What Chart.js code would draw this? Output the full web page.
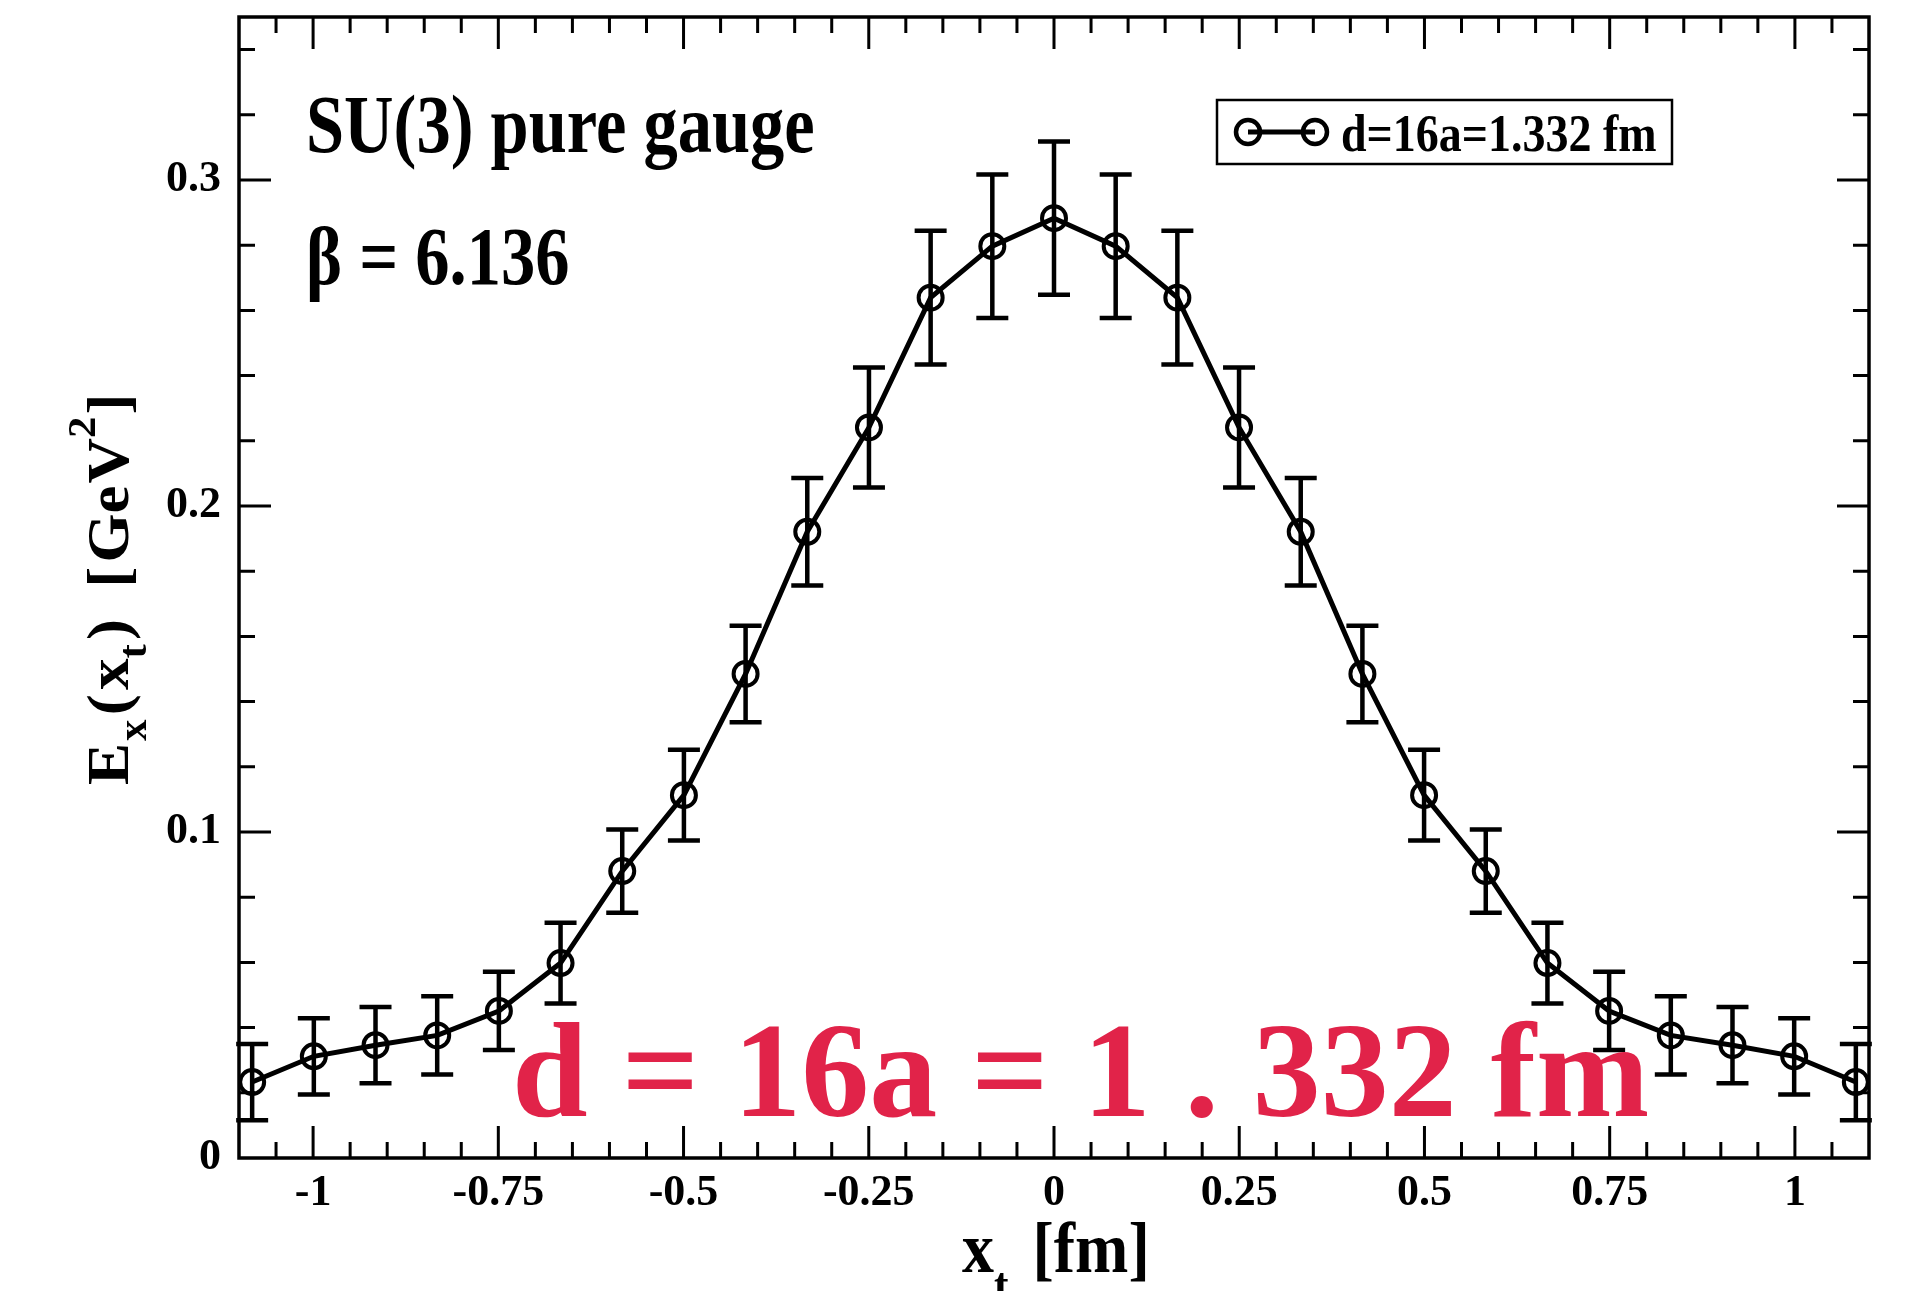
<!DOCTYPE html>
<html>
<head>
<meta charset="utf-8">
<script src="https://cdn.jsdelivr.net/npm/chart.js@4.4.1/dist/chart.umd.min.js"></script>
<style>
  html, body { margin: 0; padding: 0; background: #fff; overflow: hidden; }
  canvas { display: block; }
</style>
</head>
<body>
<canvas id="chart" width="1922" height="1291"></canvas>
<script>
// Transverse position x_t [fm] of each measurement (multiples of a = 0.08325 fm)
const xPositions = [
  -1.08225, -0.999, -0.91575, -0.8325, -0.74925, -0.666, -0.58275,
  -0.4995, -0.41625, -0.333, -0.24975, -0.1665, -0.08325, 0,
  0.08325, 0.1665, 0.24975, 0.333, 0.41625, 0.4995, 0.58275,
  0.666, 0.74925, 0.8325, 0.91575, 0.999, 1.08225
];
// E_x(x_t) [GeV^2]
const fieldValues = [
  0.0233, 0.0312, 0.0346, 0.0376, 0.0451, 0.0598, 0.0880,
  0.1113, 0.1485, 0.1921, 0.2241, 0.2639, 0.2797, 0.2883,
  0.2797, 0.2639, 0.2241, 0.1921, 0.1485, 0.1113, 0.0880,
  0.0598, 0.0451, 0.0376, 0.0346, 0.0312, 0.0233
];
// statistical errors
const fieldErrors = [
  0.0117, 0.0117, 0.0117, 0.0120, 0.0120, 0.0124, 0.0128,
  0.0139, 0.0148, 0.0165, 0.0184, 0.0205, 0.0220, 0.0235,
  0.0220, 0.0205, 0.0184, 0.0165, 0.0148, 0.0139, 0.0128,
  0.0124, 0.0120, 0.0120, 0.0117, 0.0117, 0.0117
];
const seriesLabel = 'd=16a=1.332 fm';

const xTickValues = [-1, -0.75, -0.5, -0.25, 0, 0.25, 0.5, 0.75, 1];
const xTickLabels = ['-1', '-0.75', '-0.5', '-0.25', '0', '0.25', '0.5', '0.75', '1'];
const yTickValues = [0, 0.1, 0.2, 0.3];
const yTickLabels = ['0', '0.1', '0.2', '0.3'];
const xRange = [-1.1, 1.1];
const yRange = [0, 0.35];
const xMinorStep = 0.05;
const yMinorStep = 0.02;

const FONT = '"Liberation Serif", "Times New Roman", serif';
const INK = '#000';

// error bars with caps, drawn under the markers
const errorBarPlugin = {
  id: 'errorBars',
  beforeDatasetsDraw(chart) {
    const { ctx, scales: { x, y } } = chart;
    ctx.save();
    ctx.strokeStyle = INK;
    ctx.lineWidth = 4.5;
    ctx.lineCap = 'butt';
    xPositions.forEach((xv, i) => {
      const px = x.getPixelForValue(xv);
      const top = y.getPixelForValue(fieldValues[i] + fieldErrors[i]);
      const bot = y.getPixelForValue(fieldValues[i] - fieldErrors[i]);
      ctx.beginPath();
      ctx.moveTo(px, top); ctx.lineTo(px, bot);
      ctx.moveTo(px - 16, top); ctx.lineTo(px + 16, top);
      ctx.moveTo(px - 16, bot); ctx.lineTo(px + 16, bot);
      ctx.stroke();
    });
    ctx.restore();
  }
};

function minorValues(lo, hi, step) {
  const out = [];
  for (let v = Math.ceil(lo / step - 1e-9) * step; v <= hi + 1e-9; v += step) out.push(+v.toFixed(6));
  return out.filter(v => v > lo + 1e-9 && v < hi - 1e-9);
}

// frame with inward ticks on all four sides
const framePlugin = {
  id: 'frame',
  afterDraw(chart) {
    const { ctx, chartArea: a, scales: { x, y } } = chart;
    ctx.save();
    ctx.strokeStyle = INK;
    ctx.lineWidth = 3;
    const major = 32, minor = 16;
    ctx.beginPath();
    minorValues(xRange[0], xRange[1], xMinorStep).forEach(v => {
      const px = x.getPixelForValue(v);
      const len = xTickValues.some(t => Math.abs(t - v) < 1e-6) ? major : minor;
      ctx.moveTo(px, a.bottom); ctx.lineTo(px, a.bottom - len);
      ctx.moveTo(px, a.top); ctx.lineTo(px, a.top + len);
    });
    minorValues(yRange[0], yRange[1], yMinorStep).forEach(v => {
      const py = y.getPixelForValue(v);
      const len = yTickValues.some(t => Math.abs(t - v) < 1e-6) ? major : minor;
      ctx.moveTo(a.left, py); ctx.lineTo(a.left + len, py);
      ctx.moveTo(a.right, py); ctx.lineTo(a.right - len, py);
    });
    ctx.stroke();
    ctx.lineWidth = 3.5;
    ctx.strokeRect(a.left, a.top, a.right - a.left, a.bottom - a.top);
    ctx.restore();
  }
};

// text in runs (with sub/superscripts), optionally stretched
function drawRuns(ctx, runs, x0, y0, size, sx, sy, subShift) {
  ctx.save();
  ctx.translate(x0, y0);
  ctx.scale(sx, sy);
  let x = 0;
  runs.forEach(r => {
    const small = r.sub || r.sup;
    const s = small ? size * 0.68 : size;
    ctx.font = `bold ${s}px ${FONT}`;
    const dy = r.sub ? size * subShift : (r.sup ? -size * 0.55 : 0);
    x += r.gap || 0;
    ctx.fillText(r.t, x, dy);
    x += ctx.measureText(r.t).width;
  });
  ctx.restore();
}

function drawStretched(ctx, text, x, y, font, sy) {
  ctx.save();
  ctx.translate(x, y);
  ctx.scale(1, sy);
  ctx.font = font;
  ctx.fillText(text, 0, 0);
  ctx.restore();
}

// annotations, legend and axis titles
const annotationPlugin = {
  id: 'annotations',
  afterDraw(chart) {
    const { ctx } = chart;
    ctx.save();
    ctx.fillStyle = INK;
    ctx.textBaseline = 'alphabetic';
    ctx.textAlign = 'left';

    drawStretched(ctx, 'SU(3) pure gauge', 306, 152, `bold 68.5px ${FONT}`, 1.2);
    drawStretched(ctx, '\u03B2 = 6.136', 306, 284, `bold 68.5px ${FONT}`, 1.2);

    // legend box
    const lx = 1217, ly = 100, lw = 455, lh = 64;
    ctx.fillStyle = '#fff';
    ctx.fillRect(lx, ly, lw, lh);
    ctx.strokeStyle = INK;
    ctx.lineWidth = 2.5;
    ctx.strokeRect(lx, ly, lw, lh);
    const cy = ly + lh / 2;
    ctx.lineWidth = 5;
    ctx.beginPath(); ctx.moveTo(1248, cy); ctx.lineTo(1315, cy); ctx.stroke();
    ctx.lineWidth = 4.5;
    [1248, 1315].forEach(cx => {
      ctx.beginPath(); ctx.arc(cx, cy, 12, 0, Math.PI * 2); ctx.stroke();
    });
    ctx.fillStyle = INK;
    drawStretched(ctx, chart.data.datasets[0].label, 1341, 151, `bold 46px ${FONT}`, 1.15);

    // axis titles
    drawRuns(ctx, [{ t: 'x' }, { t: 't', sub: true }, { t: '[fm]', gap: 24 }], 962, 1272, 64, 1, 1.12, 0.4);
    ctx.save();
    ctx.translate(128, 785);
    ctx.rotate(-Math.PI / 2);
    drawRuns(ctx, [
      { t: 'E' }, { t: 'x', sub: true, gap: 2 }, { t: '(', gap: 4 }, { t: 'x', gap: 4 },
      { t: 't', sub: true }, { t: ')', gap: 4 }, { t: '[', gap: 30 }, { t: 'Ge', gap: 4 },
      { t: 'V', gap: 2 }, { t: '2', sup: true }, { t: ']', gap: 2 }
    ], 0, 0, 60, 1.05, 1, 0.3);
    ctx.restore();

    // big red caption
    ctx.fillStyle = '#E12349';
    ctx.font = `bold 136px ${FONT}`;
    ctx.fillText('d = 16a = 1 . 332 fm', 512, 1116);
    ctx.restore();
  }
};

const points = xPositions.map((xv, i) => ({ x: xv, y: fieldValues[i] }));

new Chart(document.getElementById('chart'), {
  type: 'scatter',
  data: {
    datasets: [{
      label: seriesLabel,
      data: points,
      showLine: true,
      borderColor: INK,
      borderWidth: 5,
      pointRadius: 12,
      pointHoverRadius: 12,
      pointBorderWidth: 4,
      pointBorderColor: INK,
      pointBackgroundColor: 'rgba(0,0,0,0)',
      tension: 0
    }]
  },
  options: {
    responsive: false,
    animation: false,
    devicePixelRatio: 1,
    layout: { padding: { left: 0, top: 17, right: 53, bottom: 0 } },
    plugins: { legend: { display: false }, tooltip: { enabled: false } },
    scales: {
      x: {
        type: 'linear',
        min: xRange[0], max: xRange[1],
        grid: { display: false, drawTicks: false },
        border: { display: false },
        afterBuildTicks: s => { s.ticks = xTickValues.map(v => ({ value: v })); },
        afterFit: s => { s.height = 133; s.paddingLeft = s.paddingRight = 0; },
        ticks: {
          autoSkip: false, maxRotation: 0, padding: 9, color: INK,
          font: { family: FONT, size: 44, weight: 'bold' },
          callback: (v, i) => xTickLabels[i]
        }
      },
      y: {
        type: 'linear',
        min: yRange[0], max: yRange[1],
        grid: { display: false, drawTicks: false },
        border: { display: false },
        afterBuildTicks: s => { s.ticks = yTickValues.map(v => ({ value: v })); },
        afterFit: s => { s.width = 239; s.paddingTop = s.paddingBottom = 0; },
        ticks: {
          autoSkip: false, padding: 18, color: INK,
          font: { family: FONT, size: 44, weight: 'bold' },
          callback: (v, i) => yTickLabels[i]
        }
      }
    }
  },
  plugins: [errorBarPlugin, framePlugin, annotationPlugin]
});
</script>
</body>
</html>
